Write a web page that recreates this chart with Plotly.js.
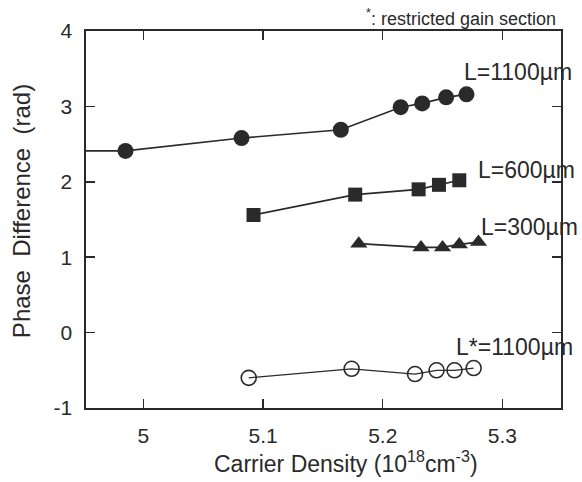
<!DOCTYPE html>
<html><head><meta charset="utf-8">
<script src="https://cdn.plot.ly/plotly-3.0.1.min.js"></script>
<style>body{margin:0;background:#fff}#c{width:582px;height:482px}</style>
</head><body><div id="c"></div>
<script>
const x1100 = [4.93, 4.985, 5.082, 5.165, 5.215, 5.233, 5.253, 5.270];
const y1100 = [2.41, 2.41, 2.58, 2.69, 2.99, 3.04, 3.12, 3.16];
const x600 = [5.092, 5.177, 5.230, 5.247, 5.264];
const y600 = [1.56, 1.83, 1.90, 1.96, 2.02];
const x300 = [5.180, 5.232, 5.250, 5.264, 5.280];
const y300 = [1.18, 1.13, 1.13, 1.17, 1.20];
const xR = [5.088, 5.174, 5.227, 5.245, 5.260, 5.276];
const yR = [-0.60, -0.48, -0.55, -0.50, -0.50, -0.47];
const xTicks = [5, 5.1, 5.2, 5.3];
const yTicks = [-1, 0, 1, 2, 3, 4];
const labels = ["L=1100\u00b5m", "L=600\u00b5m", "L=300\u00b5m", "L*=1100\u00b5m"];

const ink = '#2a2a2a';
const font = "Liberation Sans, Arial, sans-serif";
const lineStyle = {color: ink, width: 1.6};
const traces = [
  {x: x1100, y: y1100, mode: 'lines+markers', line: lineStyle,
   marker: {symbol: 'circle', size: 16, color: ink}},
  {x: x600, y: y600, mode: 'lines+markers', line: lineStyle,
   marker: {symbol: 'square', size: 14, color: ink}},
  {x: x300, y: y300, mode: 'lines+markers', line: lineStyle,
   marker: {symbol: 'triangle-up', size: 15, color: ink}},
  {x: xR, y: yR, mode: 'lines+markers', line: {color: ink, width: 1.3},
   marker: {symbol: 'circle-open', size: 15, color: ink, line: {width: 1.6, color: ink}}}
];
const axisCommon = {
  ticks: 'inside', ticklen: 9, tickwidth: 1.5, tickcolor: ink, mirror: 'ticks',
  showline: true, linecolor: ink, linewidth: 1.6, showgrid: false, zeroline: false,
  tickfont: {size: 21, color: ink}
};
const layout = {
  width: 582, height: 482, showlegend: false,
  margin: {l: 85.5, r: 20.5, t: 30.7, b: 74.3},
  paper_bgcolor: '#fff', plot_bgcolor: '#fff',
  font: {family: font, color: ink, size: 18},
  xaxis: Object.assign({range: [4.952, 5.349], tickvals: xTicks, ticktext: xTicks.map(String),
    ticklabelstandoff: 8}, axisCommon),
  yaxis: Object.assign({range: [-1, 4], tickvals: yTicks, ticktext: yTicks.map(String),
    ticklabelstandoff: 8}, axisCommon),
  annotations: [
    {xref: 'paper', yref: 'paper', x: 0.547, y: -0.142, xanchor: 'center', yanchor: 'middle',
     text: 'Carrier Density (10<sup>18</sup>cm<sup>-3</sup>)', showarrow: false, font: {size: 23, color: ink}},
    {xref: 'paper', yref: 'paper', x: -0.137, y: 0.522, xanchor: 'center', yanchor: 'middle', textangle: -90,
     text: 'Phase  Difference  (rad)', showarrow: false, font: {size: 24, color: ink}},
    {xref: 'paper', yref: 'paper', x: 0.994, y: 1.036, xanchor: 'right', yanchor: 'middle',
     text: '<sup>*</sup>: restricted gain section', showarrow: false, font: {size: 18, color: ink}},
    {xref: 'paper', yref: 'paper', x: 0.7924, y: 0.8912, xanchor: 'left', yanchor: 'middle',
     text: labels[0], showarrow: false, font: {size: 23, color: ink}},
    {xref: 'paper', yref: 'paper', x: 0.8204, y: 0.632, xanchor: 'left', yanchor: 'middle',
     text: labels[1], showarrow: false, font: {size: 23, color: ink}},
    {xref: 'paper', yref: 'paper', x: 0.8267, y: 0.480, xanchor: 'left', yanchor: 'middle',
     text: labels[2], showarrow: false, font: {size: 23, color: ink}},
    {xref: 'paper', yref: 'paper', x: 0.7756, y: 0.1605, xanchor: 'left', yanchor: 'middle',
     text: labels[3], showarrow: false, font: {size: 23, color: ink}}
  ]
};
Plotly.newPlot('c', traces, layout, {staticPlot: true});
</script></body></html>
